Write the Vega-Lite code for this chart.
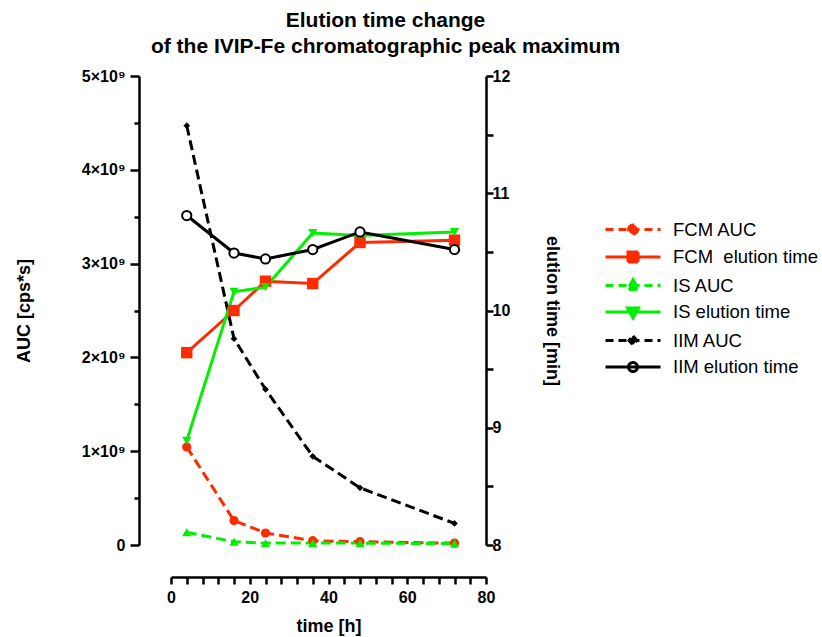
{
  "$schema": "https://vega.github.io/schema/vega-lite/v6.json",
  "width": 315,
  "height": 469,
  "padding": {"left": 15, "top": 10, "right": 5, "bottom": 5},
  "background": "white",
  "title": {
    "text": ["Elution time change", "of the IVIP-Fe chromatographic peak maximum"],
    "font": "Liberation Sans",
    "fontSize": 21,
    "fontWeight": "bold",
    "color": "black",
    "anchor": "middle",
    "frame": "group",
    "dx": 57,
    "lineHeight": 26,
    "offset": 11
  },
  "config": {
    "font": "Liberation Sans",
    "view": {"stroke": null},
    "axis": {
      "grid": false,
      "domainColor": "black",
      "tickColor": "black",
      "labelColor": "black",
      "titleColor": "black",
      "domainWidth": 2.5,
      "tickWidth": 2.5,
      "labelFont": "Liberation Sans",
      "titleFont": "Liberation Sans",
      "labelFontWeight": "bold",
      "labelFontSize": 16,
      "titleFontSize": 18,
      "titleFontWeight": "bold"
    },
    "legend": {
      "orient": "none",
      "legendX": 433,
      "legendY": 142,
      "labelFont": "Liberation Sans",
      "labelFontSize": 18.5,
      "labelColor": "black",
      "labelLimit": 300,
      "symbolSize": 400,
      "symbolStrokeWidth": 3,
      "symbolOpacity": 1,
      "labelOffset": 46,
      "rowPadding": 4.5
    }
  },
  "data": {
    "values": [
      {"series": "FCM AUC", "t": 4, "v": 1045000000},
      {"series": "FCM AUC", "t": 16, "v": 260000000},
      {"series": "FCM AUC", "t": 24, "v": 128000000},
      {"series": "FCM AUC", "t": 36, "v": 46000000},
      {"series": "FCM AUC", "t": 48, "v": 35000000},
      {"series": "FCM AUC", "t": 72, "v": 20000000},
      {"series": "IS AUC", "t": 4, "v": 135000000},
      {"series": "IS AUC", "t": 16, "v": 35000000},
      {"series": "IS AUC", "t": 24, "v": 20000000},
      {"series": "IS AUC", "t": 36, "v": 20000000},
      {"series": "IS AUC", "t": 48, "v": 20000000},
      {"series": "IS AUC", "t": 72, "v": 15000000},
      {"series": "IIM AUC", "t": 4, "v": 4470000000},
      {"series": "IIM AUC", "t": 16, "v": 2200000000},
      {"series": "IIM AUC", "t": 24, "v": 1660000000},
      {"series": "IIM AUC", "t": 36, "v": 945000000},
      {"series": "IIM AUC", "t": 48, "v": 610000000},
      {"series": "IIM AUC", "t": 72, "v": 230000000},
      {"series": "FCM  elution time", "t": 4, "v": 9.64},
      {"series": "FCM  elution time", "t": 16, "v": 10.0},
      {"series": "FCM  elution time", "t": 24, "v": 10.25},
      {"series": "FCM  elution time", "t": 36, "v": 10.23},
      {"series": "FCM  elution time", "t": 48, "v": 10.58},
      {"series": "FCM  elution time", "t": 72, "v": 10.6},
      {"series": "IS elution time", "t": 4, "v": 8.89},
      {"series": "IS elution time", "t": 16, "v": 10.16},
      {"series": "IS elution time", "t": 24, "v": 10.2},
      {"series": "IS elution time", "t": 36, "v": 10.66},
      {"series": "IS elution time", "t": 48, "v": 10.64},
      {"series": "IS elution time", "t": 72, "v": 10.67},
      {"series": "IIM elution time", "t": 4, "v": 10.81},
      {"series": "IIM elution time", "t": 16, "v": 10.49},
      {"series": "IIM elution time", "t": 24, "v": 10.44},
      {"series": "IIM elution time", "t": 36, "v": 10.52},
      {"series": "IIM elution time", "t": 48, "v": 10.67},
      {"series": "IIM elution time", "t": 72, "v": 10.52}
    ]
  },
  "encoding": {
    "x": {
      "field": "t",
      "type": "quantitative",
      "scale": {"domain": [0, 80], "nice": false, "zero": false},
      "axis": {
        "title": "time [h]",
        "values": [0, 4, 8, 12, 16, 20, 24, 28, 32, 36, 40, 44, 48, 52, 56, 60, 64, 68, 72, 76, 80],
        "labelExpr": "datum.value % 20 === 0 ? datum.label : ''",
        "offset": 32,
        "tickSize": 7,
        "labelPadding": 5,
        "titlePadding": 12,
        "labelFlush": false,
        "labelOverlap": false
      }
    }
  },
  "layer": [
    {
      "transform": [{"filter": "indexof(datum.series, 'AUC') >= 0"}],
      "encoding": {
        "y": {
          "field": "v",
          "type": "quantitative",
          "scale": {"domain": [0, 5000000000], "nice": false},
          "axis": {
            "orient": "left",
            "title": "AUC [cps*s]",
            "offset": 32,
            "values": [0, 500000000, 1000000000, 1500000000, 2000000000, 2500000000, 3000000000, 3500000000, 4000000000, 4500000000, 5000000000],
            "labelExpr": "datum.value === 0 ? '0' : (datum.value % 1000000000 === 0 ? (datum.value / 1000000000) + '×10⁹' : '')",
            "tickSize": {"condition": {"test": "datum.value % 1000000000 === 0", "value": 9}, "value": 5},
            "labelPadding": 5,
            "titlePadding": 48,
            "labelFlush": false,
            "labelOverlap": false
          }
        }
      },
      "layer": [
        {
          "mark": {"type": "line", "strokeWidth": 3, "strokeDash": [10, 5]},
          "encoding": {
            "color": {
              "field": "series",
              "type": "nominal",
              "scale": {
                "domain": ["FCM AUC", "FCM  elution time", "IS AUC", "IS elution time", "IIM AUC", "IIM elution time"],
                "range": ["#ff2b00", "#ff2b00", "#00f000", "#00f000", "black", "black"]
              },
              "legend": {"title": null, "labelExpr": "datum.value === 'FCM  elution time' ? 'FCM\u00a0 elution time' : datum.label"}
            }
          }
        },
        {
          "transform": [{"filter": "datum.series === 'FCM AUC'"}],
          "mark": {"type": "point", "shape": "circle", "filled": true, "color": "#ff2b00", "size": 85, "opacity": 1}
        },
        {
          "transform": [{"filter": "datum.series === 'IS AUC'"}],
          "mark": {"type": "point", "shape": "triangle-up", "filled": true, "color": "#00f000", "size": 85, "opacity": 1}
        },
        {
          "transform": [{"filter": "datum.series === 'IIM AUC'"}],
          "mark": {"type": "point", "shape": "diamond", "filled": true, "color": "black", "size": 45, "opacity": 1}
        },
        {
          "transform": [{"filter": "datum.series === 'none'"}],
          "mark": {"type": "point", "filled": false, "opacity": 1},
          "encoding": {
            "color": {"field": "series", "type": "nominal", "legend": {"title": null, "labelExpr": "datum.value === 'FCM  elution time' ? 'FCM\u00a0 elution time' : datum.label"}},
            "shape": {
              "field": "series",
              "type": "nominal",
              "scale": {
                "domain": ["FCM AUC", "FCM  elution time", "IS AUC", "IS elution time", "IIM AUC", "IIM elution time"],
                "range": [
                  "M-1,0H4.5M1.3,0A0.45,0.45,0,1,1,2.2,0A0.45,0.45,0,1,1,1.3,0Z",
                  "M-1,0H4.5M1.25,-0.5H2.25V0.5H1.25Z",
                  "M-1,0H4.5M1.75,-0.6L2.3,0.4H1.2Z",
                  "M-1,0H4.5M1.75,0.6L2.3,-0.4H1.2Z",
                  "M-1,0H4.5M1.75,-0.45L2.15,0L1.75,0.45L1.35,0Z",
                  "M-1,0H4.5M1.3,0A0.45,0.45,0,1,1,2.2,0A0.45,0.45,0,1,1,1.3,0Z"
                ]
              },
              "legend": {"title": null, "labelExpr": "datum.value === 'FCM  elution time' ? 'FCM\u00a0 elution time' : datum.label"}
            },
            "strokeDash": {
              "field": "series",
              "type": "nominal",
              "scale": {
                "domain": ["FCM AUC", "FCM  elution time", "IS AUC", "IS elution time", "IIM AUC", "IIM elution time"],
                "range": [[8, 5], [1, 0], [8, 5], [1, 0], [8, 5], [1, 0]]
              },
              "legend": {"title": null, "labelExpr": "datum.value === 'FCM  elution time' ? 'FCM\u00a0 elution time' : datum.label"}
            },
            "fill": {
              "field": "series",
              "type": "nominal",
              "scale": {
                "domain": ["FCM AUC", "FCM  elution time", "IS AUC", "IS elution time", "IIM AUC", "IIM elution time"],
                "range": ["#ff2b00", "#ff2b00", "#00f000", "#00f000", "black", "white"]
              },
              "legend": {"title": null, "labelExpr": "datum.value === 'FCM  elution time' ? 'FCM\u00a0 elution time' : datum.label"}
            }
          }
        }
      ]
    },
    {
      "transform": [{"filter": "indexof(datum.series, 'elution') >= 0"}],
      "encoding": {
        "y": {
          "field": "v",
          "type": "quantitative",
          "scale": {"domain": [8, 12], "nice": false, "zero": false},
          "axis": {
            "orient": "right",
            "title": "elution time [min]",
            "values": [8, 8.5, 9, 9.5, 10, 10.5, 11, 11.5, 12],
            "labelExpr": "datum.value % 1 === 0 ? format(datum.value, 'd') : ''",
            "tickSize": 7,
            "labelPadding": -1,
            "titlePadding": 33,
            "labelFlush": false,
            "labelOverlap": false
          }
        }
      },
      "layer": [
        {
          "mark": {"type": "line", "strokeWidth": 3},
          "encoding": {
            "color": {"field": "series", "type": "nominal", "legend": {"title": null, "labelExpr": "datum.value === 'FCM  elution time' ? 'FCM\u00a0 elution time' : datum.label"}}
          }
        },
        {
          "transform": [{"filter": "datum.series === 'FCM  elution time'"}],
          "mark": {"type": "point", "shape": "square", "filled": true, "color": "#ff2b00", "size": 130, "opacity": 1}
        },
        {
          "transform": [{"filter": "datum.series === 'IS elution time'"}],
          "mark": {"type": "point", "shape": "triangle-down", "filled": true, "color": "#00f000", "size": 85, "opacity": 1}
        },
        {
          "transform": [{"filter": "datum.series === 'IIM elution time'"}],
          "mark": {"type": "point", "shape": "circle", "filled": false, "stroke": "black", "fill": "white", "strokeWidth": 2, "size": 85, "opacity": 1}
        }
      ]
    }
  ],
  "resolve": {"scale": {"y": "independent"}}
}
